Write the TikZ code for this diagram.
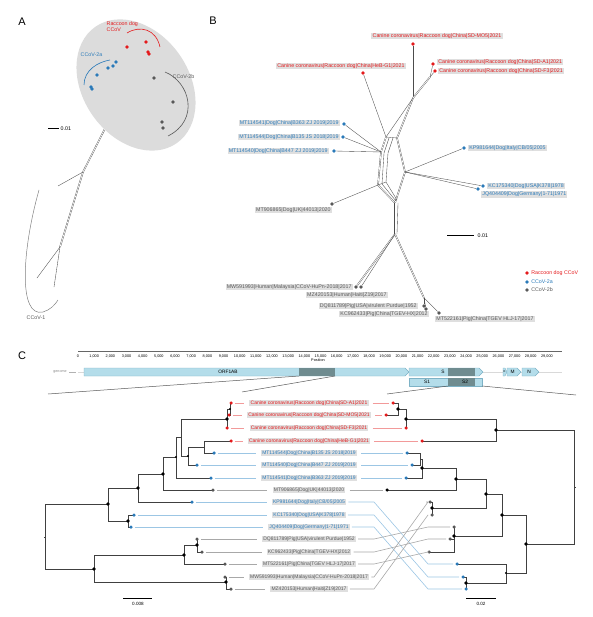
\documentclass[tikz,border=0pt]{standalone}
\usepackage{fontspec}
\setmainfont{Liberation Sans}
\usetikzlibrary{positioning, calc}
\definecolor{cRed}{HTML}{E41A1C}
\definecolor{cBlue}{HTML}{2A7AB9}
\definecolor{cGray}{HTML}{585858}
\definecolor{lnRed}{HTML}{F29A9A}
\definecolor{lnBlue}{HTML}{9CC6E4}
\definecolor{lnGray}{HTML}{A8A8A8}
\definecolor{labFill}{HTML}{DFDFDF}
\definecolor{ellFill}{HTML}{DCDCDC}
\definecolor{gLight}{HTML}{B4DDEA}
\definecolor{gEdge}{HTML}{7DB2C6}
\definecolor{gDark}{HTML}{6F8C90}
\pgfdeclarelayer{bg}
\pgfsetlayers{bg,main}

\begin{document}
\begin{tikzpicture}[x=1pt, y=-1pt, line join=round,
  panel/.style={font=\fontsize{11}{12}\selectfont},
  smtxt/.style={font=\fontsize{5.3}{6.2}\selectfont, inner sep=0.5pt},
  tiplab/.style={fill=labFill, inner xsep=1.2pt, inner ysep=0.9pt, font=\fontsize{5}{6}\selectfont},
  labB/.style={tiplab, font=\fontsize{5.3}{6}\selectfont},
  adot/.style={circle, inner sep=0pt, minimum size=3.8pt},
  leaf/.style={circle, inner sep=0pt, minimum size=3.5pt},
  inbig/.style={circle, fill=black, inner sep=0pt, minimum size=3.9pt},
  insm/.style={circle, fill=black, inner sep=0pt, minimum size=2.4pt},
  netln/.style={draw=black!70, line width=0.35pt},
  netd/.style={netln, double=white, double distance=0.7pt},
  branch/.style={draw=black!75, line width=0.7pt},
  conn/.style={line width=0.6pt, shorten <=2pt, shorten >=2pt},
  gbox/.style={fill=gLight, draw=gEdge, line width=0.4pt},
  gtext/.style={font=\fontsize{4.8}{5}\selectfont, inner sep=0pt},
  ticklbl/.style={font=\fontsize{3.8}{4}\selectfont, inner sep=0pt},
  funnel/.style={draw=black!65, line width=0.5pt},
  clade/.style={line width=0.6pt}]
\useasboundingbox (0,0) rectangle (592,617);

% panel letters
\node[panel] (pA) at (22,22) {A};
\node[panel] (pB) at (213,21) {B};
\node[panel] (pC) at (22,356) {C};

% ---------- A: whole network ----------
\fill[ellFill, rotate around={-55:(136,85)}] (136,85) ellipse [x radius=71, y radius=53];

\node[adot, fill=cRed] (ar1) at (127,47) {};
\node[adot, fill=cRed] (ar2) at (146,42) {};
\node[adot, fill=cRed] (ar3) at (148,52) {};
\node[adot, fill=cRed] (ar4) at (149,54) {};
\node[adot, fill=cBlue] (ab1) at (116,62) {};
\node[adot, fill=cBlue] (ab2) at (113,66) {};
\node[adot, fill=cBlue] (ab3) at (108,68) {};
\node[adot, fill=cBlue] (ab4) at (97,75) {};
\node[adot, fill=cBlue] (ab5) at (91,87) {};
\node[adot, fill=cBlue] (ab6) at (92,89) {};
\node[adot, fill=cGray] (ag1) at (154,78) {};
\node[adot, fill=cGray] (ag2) at (173,102) {};
\node[adot, fill=cGray] (ag3) at (162,122) {};
\node[adot, fill=cGray] (ag4) at (163,128) {};
\coordinate (aj0) at (127,85);
\coordinate (aj1) at (140,66);
\coordinate (aj2) at (140,97);
\coordinate (aj3) at (146,98);
\coordinate (ak1) at (83,172);
\coordinate (ak2) at (60,247);
\coordinate (ae1) at (58,186);
\coordinate (ae2) at (37,278);
\coordinate (ae3) at (54,287);

\begin{pgfonlayer}{bg}
  \draw[netln] (ar1) -- (aj0);
  \foreach \d in {ar2,ar3,ar4} \draw[netln] (\d) -- (aj1);
  \draw[netd] (aj1) -- (aj0);
  \foreach \d in {ab1,ab2,ab3,ab4,ab5,ab6,ag1} \draw[netln] (\d) -- (aj0);
  \draw[netln] (ag2) -- (aj2) -- (aj0);
  \foreach \d in {ag3,ag4} \draw[netln] (\d) -- (aj3);
  \draw[netd] (aj3) -- (aj0);
  \draw[netd] (aj0) -- (ak1);
  \draw[netd] (ak1) -- (ak2);
  \draw[netln] (ak1) -- (ae1);
  \draw[netln] (ak2) -- (ae2);
  \draw[netln] (ak2) -- (ae3);
\end{pgfonlayer}

% clade brackets
\draw[cRed, clade] (127,33) .. controls (140,25) and (156,29) .. (160,47);
\draw[cBlue, clade] (110,60) .. controls (98,62) and (84,70) .. (84,85);
\draw[cGray, clade] (165,72) .. controls (190,82) and (200,120) .. (168,136);
\draw[gray, line width=0.5pt] (39,190) .. controls (22,250) and (18,318) .. (43,312)
  .. controls (50,310) and (55,305) .. (58,300);
\node[smtxt, text=cRed, anchor=west, align=left] (tRD) at (106,27) {Raccoon dog\\CCoV};
\node[smtxt, text=cBlue, anchor=west] (t2a) at (80,55) {CCoV-2a};
\node[smtxt, text=cGray, anchor=west] (t2b) at (172,77) {CCoV-2b};
\node[smtxt, text=cGray] (t1) at (36,318) {CCoV-1};

% scale A
\draw[line width=0.8pt] (48,128) -- (59,128);
\node[smtxt, anchor=west] (sA) at (60,128.5) {0.01};

% ---------- B: CCoV-2 network ----------
\node[adot, fill=cRed] (bMO5) at (413,44) {};
\node[adot, fill=cRed] (bA1) at (433,64) {};
\node[adot, fill=cRed] (bF3) at (435,71) {};
\node[adot, fill=cRed] (bHeB) at (363,73) {};
\node[adot, fill=cBlue] (bB363) at (344,124) {};
\node[adot, fill=cBlue] (bB135) at (343,137) {};
\node[adot, fill=cBlue] (bB447) at (334,151) {};
\node[adot, fill=cBlue] (bKP) at (464,148) {};
\node[adot, fill=cBlue] (bKC17) at (483,186) {};
\node[adot, fill=cBlue] (bJQ) at (478,189) {};
\node[adot, fill=cGray] (bMT906) at (332,204) {};
\node[adot, fill=cGray] (bMW) at (356,287) {};
\node[adot, fill=cGray] (bMZ) at (361,287) {};
\node[adot, fill=cGray] (bDQ) at (424,306) {};
\node[adot, fill=cGray] (bKC96) at (426,309) {};
\node[adot, fill=cGray] (bMT52) at (439,313) {};
\coordinate (bj1) at (430,77);
\coordinate (bj2) at (413,98);
\coordinate (bj3) at (397,138);
\coordinate (bj4) at (386,137);
\coordinate (bj5) at (381,152);
\coordinate (bj6) at (378,185);
\coordinate (bj7) at (405,172);
\coordinate (bj8) at (395,203);
\coordinate (bj9) at (395,234);
\coordinate (bj10) at (424,298);

\begin{pgfonlayer}{bg}
  \draw[netln] (bMO5) -- (bj2);
  \draw[netln] (bA1) -- (bj1);
  \draw[netln] (bF3) -- (bj1);
  \draw[netd] (bj1) -- (bj2) -- (bj3);
  \draw[netln] (bj2) -- (bj4);
  \draw[netln] (bHeB) -- (bj4);
  \draw[netln] (bj4) -- (bj3);
  \draw[netd] (bj4) -- (bj5) -- (bj6) -- (bj8);
  \draw[netd] (bj3) -- (bj7) -- (bj8);
  \draw[netln] (389,138) -- (384,153) -- (382,184) -- (396,201);
  \draw[netln] (393,138) -- (388,153) -- (386,182) -- (397,200);
  \draw[netln] (bj6) -- (386,182);
  \foreach \d in {bB363,bB135,bB447} \draw[netln] (\d) -- (bj5);
  \foreach \d in {bKP,bKC17,bJQ} \draw[netln] (\d) -- (bj7);
  \draw[netln] (bMT906) -- (bj6);
  \draw[netd] (bj8) -- (bj9);
  \draw[netln] (398,203) -- (397,234);
  \draw[netd] (bj9) -- (bMW);
  \draw[netln] (bj9) -- (bMZ);
  \draw[netd] (bj9) -- (bj10);
  \draw[netln] (bj10) -- (bDQ);
  \draw[netln] (bj10) -- (bKC96);
  \draw[netln] (bj10) -- (bMT52);
\end{pgfonlayer}

\node[labB, text=cRed] (lMO5) at (437,36) {Canine coronavirus|Raccoon dog|China|SD-MO5|2021};
\node[labB, text=cRed] (lHeB) at (341,66) {Canine coronavirus|Raccoon dog|China|HeB-G1|2021};
\node[labB, text=cRed, anchor=west] (lA1) at (437,62) {Canine coronavirus|Raccoon dog|China|SD-A1|2021};
\node[labB, text=cRed, anchor=west] (lF3) at (438,71) {Canine coronavirus|Raccoon dog|China|SD-F3|2021};
\node[labB, text=cBlue, anchor=east] (lB363) at (340,123) {MT114541|Dog|China|B363 ZJ 2019|2019};
\node[labB, text=cBlue, anchor=east] (lB135) at (340,137) {MT114544|Dog|China|B135 JS 2018|2019};
\node[labB, text=cBlue, anchor=east] (lB447) at (329,151) {MT114540|Dog|China|B447 ZJ 2019|2019};
\node[labB, text=cBlue, anchor=west] (lKP) at (468,148) {KP981644|Dog|Italy|CB/05|2005};
\node[labB, text=cBlue, anchor=west] (lKC17) at (487,186) {KC175340|Dog|USA|K378|1978};
\node[labB, text=cBlue, anchor=west] (lJQ) at (481,194.5) {JQ404409|Dog|Germany|1-71|1971};
\node[labB, text=cGray, anchor=east] (lMT906) at (332,210) {MT906865|Dog|UK|44013|2020};
\node[labB, text=cGray, anchor=east] (lMW) at (353,287) {MW591993|Human|Malaysia|CCoV-HuPn-2018|2017};
\node[labB, text=cGray, anchor=east] (lMZ) at (388,295) {MZ420153|Human|Haiti|Z19|2017};
\node[labB, text=cGray, anchor=east] (lDQ) at (418,306) {DQ811789|Pig|USA|virulent Purdue|1952};
\node[labB, text=cGray, anchor=east] (lKC96) at (429,314) {KC962433|Pig|China|TGEV-HX|2012};
\node[labB, text=cGray, anchor=west] (lMT52) at (435,319) {MT522161|Pig|China|TGEV HLJ-17|2017};

% scale B
\draw[line width=0.7pt] (447,235) -- (474,235);
\node[smtxt, anchor=west] (sB) at (477,235.5) {0.01};

% legend
\node[adot, fill=cRed] (kR) at (527,273) {};
\node[smtxt, text=cRed, right=1.5pt of kR] (kRt) {Raccoon dog CCoV};
\node[adot, fill=cBlue] (kB) at (527,282) {};
\node[smtxt, text=cBlue, right=1.5pt of kB] (kBt) {CCoV-2a};
\node[adot, fill=cGray] (kG) at (527,290) {};
\node[smtxt, text=cGray, right=1.5pt of kG] (kGt) {CCoV-2b};

% ---------- C: genome map ----------
\draw[black!60, line width=0.4pt] (78,351) -- (562,351);
\foreach \t in {0,...,149} \draw[black!60, line width=0.2pt] ({78+\t*3.234},351) -- ++(0,1.3);
\foreach \k in {0,...,29}
  \node[ticklbl] at ({78+16.17*\k},356) {\ifnum\k=0 0\else\k,000\fi};
\node[ticklbl] (pos) at (318,360.5) {Position};

\draw[black!15, line width=1pt] (78,372) -- (562,372);
\node[gtext, font=\fontsize{3.6}{4}\selectfont, text=gray] (gname) at (60,372) {genome};
\draw[gray!60, line width=0.3pt] (69,372) -- (76,372);

\draw[gbox] (84,368) -- (405,368) -- (409,372) -- (405,376) -- (84,376) -- cycle;
\fill[gDark] (299,368.2) rectangle (335,375.8);
\node[gtext] (gorf) at (228,372) {ORF1AB};
\draw[gbox] (409,368) -- (479,368) -- (483,372) -- (479,376) -- (409,376) -- cycle;
\fill[gDark] (448,368.2) rectangle (475,375.8);
\node[gtext] (gS) at (443,372) {S};
\draw[gbox] (409,378) rectangle (448,386);
\node[gtext] (gS1) at (427,382) {S1};
\draw[gbox] (448,378) rectangle (482,386);
\fill[gDark] (448.2,378.2) rectangle (475,385.8);
\node[gtext] (gS2) at (465,382) {S2};
\draw[gbox] (503,368) -- (505,368) -- (507,372) -- (505,376) -- (503,376) -- cycle;
\node[gtext, font=\fontsize{2.8}{3}\selectfont] (gE) at (504.6,372) {E};
\draw[gbox] (507,368) -- (517,368) -- (521,372) -- (517,376) -- (507,376) -- cycle;
\node[gtext] (gM) at (512.5,372) {M};
\draw[gbox] (522,368) -- (535,368) -- (539,372) -- (535,376) -- (522,376) -- cycle;
\node[gtext] (gN) at (529,372) {N};

\draw[funnel] (299,376) -- (48,394);
\draw[funnel] (335,376) -- (242,392);
\draw[funnel] (448,386) -- (387,394);
\draw[funnel] (482,386) -- (576,395);

% ---------- C: tanglegram ----------
\foreach \n/\x/\y/\c in {1/231/403/cRed,2/229/415/cRed,3/227/428/cRed,4/231/441/cRed,
    5/214/453/cBlue,6/197/465/cBlue,7/211/478/cBlue,8/213/490/cGray,9/192/502/cBlue,
    10/134/515/cBlue,11/131/527/cBlue,12/197/539/cGray,13/202/552/cGray,
    14/225/564/cGray,15/225/577/cGray,16/231/589/cGray}
  \node[leaf, fill=\c] (L\n) at (\x,\y) {};
\foreach \n/\x/\y/\c in {1/393/403/cRed,2/386/415/cRed,3/406/428/cRed,4/422/441/cRed,
    5/407/453/cBlue,6/412/465/cBlue,7/406/478/cBlue,8/387/490/black,9/430/502/cGray,
    10/432/515/cGray,11/454/527/cGray,12/450/539/cGray,13/429/552/cGray,
    14/457/564/cBlue,15/463/577/cBlue,16/466/589/cBlue}
  \node[leaf, fill=\c] (R\n) at (\x,\y) {};

% left tree
\node[insm] (Le1) at (230,409) {};
\node[inbig] (Le2) at (227,419) {};
\coordinate (Lf1) at (204,447);
\node[insm] (Lf2) at (188,456) {};
\coordinate (Lg1) at (181,437);
\node[insm] (Lg2) at (176,457) {};
\node[inbig] (Lg3) at (163,474) {};
\node[inbig] (Lg4) at (138,488) {};
\node[inbig] (Lg5) at (108,504) {};
\node[inbig] (Lh1) at (128,521) {};
\node[inbig] (Lk1a) at (197,545) {};
\node[inbig] (Lk1) at (184,555) {};
\node[inbig] (Lk2) at (226,582) {};
\node[inbig] (Lk) at (94,569) {};
\coordinate (Lroot) at (45,537);

% right tree
\node[inbig] (Ra1) at (398,409) {};
\node[inbig] (Ra2) at (406,419) {};
\node[inbig] (Ra3) at (496,430) {};
\coordinate (Rb1) at (420,459);
\node[inbig] (Rb2) at (422,468) {};
\node[inbig] (Rb3) at (456,479) {};
\node[inbig] (Rc1) at (432,508) {};
\node[inbig] (Rb4) at (486,494) {};
\node[inbig] (Rc3) at (454,536) {};
\node[inbig] (Rb5) at (502,515) {};
\node[inbig] (Rd1) at (466,583) {};
\node[insm] (Rd) at (506,573) {};
\node[inbig] (Rb6) at (526,544) {};
\coordinate (Rroot) at (574,487);

\begin{pgfonlayer}{bg}
  \foreach \p/\c in {Le1/L1,Le1/L2,Le2/Le1,Le2/L3,Lf1/L4,Lf1/L5,Lf2/Lf1,Lf2/L6,
      Lg1/Le2,Lg1/Lf2,Lg2/Lg1,Lg2/L7,Lg3/Lg2,Lg3/L8,Lg4/Lg3,Lg4/L9,Lh1/L10,Lh1/L11,
      Lg5/Lg4,Lg5/Lh1,Lk1a/L12,Lk1a/L13,Lk1/Lk1a,Lk1/L14,Lk2/L15,Lk2/L16,Lk/Lk1,
      Lk/Lk2,Lroot/Lg5,Lroot/Lk,
      Ra1/R1,Ra1/R2,Ra2/Ra1,Ra2/R3,Ra3/Ra2,Ra3/R4,Rb1/R5,Rb1/R6,Rb2/Rb1,Rb2/R7,
      Rb3/Rb2,Rb3/R8,Rc1/R9,Rc1/R10,Rb4/Rb3,Rb4/Rc1,Rc3/R11,Rc3/R12,Rc3/R13,
      Rb5/Rb4,Rb5/Rc3,Rd1/R15,Rd1/R16,Rd/R14,Rd/Rd1,Rb6/Rb5,Rb6/Rd,Rroot/Ra3,Rroot/Rb6}
    \draw[branch] (\p.center) |- (\c.center);
  \draw[branch] (Lroot.center) -- ++(-1.5,0);
  \draw[branch] (Rroot.center) -- ++(1.5,0);
\end{pgfonlayer}

% labels and left connectors
\foreach \n/\y/\tc/\lc/\t in {
    1/403/cRed/lnRed/{Canine coronavirus|Raccoon dog|China|SD-A1|2021},
    2/415/cRed/lnRed/{Canine coronavirus|Raccoon dog|China|SD-MO5|2021},
    3/428/cRed/lnRed/{Canine coronavirus|Raccoon dog|China|SD-F3|2021},
    4/441/cRed/lnRed/{Canine coronavirus|Raccoon dog|China|HeB-G1|2021},
    5/453/cBlue/lnBlue/{MT114544|Dog|China|B135 JS 2018|2019},
    6/465/cBlue/lnBlue/{MT114540|Dog|China|B447 ZJ 2019|2019},
    7/478/cBlue/lnBlue/{MT114541|Dog|China|B363 ZJ 2019|2019},
    8/490/cGray/lnGray/{MT906865|Dog|UK|44013|2020},
    9/502/cBlue/lnBlue/{KP981644|Dog|Italy|CB/05|2005},
    10/515/cBlue/lnBlue/{KC175340|Dog|USA|K378|1978},
    11/527/cBlue/lnBlue/{JQ404409|Dog|Germany|1-71|1971},
    12/539/cGray/lnGray/{DQ811789|Pig|USA|virulent Purdue|1952},
    13/552/cGray/lnGray/{KC962433|Pig|China|TGEV-HX|2012},
    14/564/cGray/lnGray/{MT522161|Pig|China|TGEV HLJ-17|2017},
    15/577/cGray/lnGray/{MW591993|Human|Malaysia|CCoV-HuPn-2018|2017},
    16/589/cGray/lnGray/{MZ420153|Human|Haiti|Z19|2017}} {
  \node[tiplab, text=\tc] (T\n) at (309,\y) {\t};
  \draw[draw=\lc, conn, shorten >=5pt] (L\n) -- (T\n);
}

% right connectors
\coordinate (xa) at (374,0);
\coordinate (xb) at (428,0);
\foreach \n/\lc in {1/lnRed,2/lnRed,3/lnRed,4/lnRed,5/lnBlue,6/lnBlue,7/lnBlue,8/lnGray}
  \draw[draw=\lc, conn, shorten <=4pt] (T\n) -- (R\n);
\foreach \n/\m/\lc in {9/14/lnBlue,10/15/lnBlue,11/16/lnBlue,12/11/lnGray,
    13/12/lnGray,14/13/lnGray,15/9/lnGray,16/10/lnGray}
  \draw[draw=\lc, conn] (T\n.east) -- (T\n.east -| xa) -- (R\m -| xb) -- (R\m);

% scale bars C
\draw[line width=0.6pt] (123,598) -- (152,598);
\node[smtxt, font=\fontsize{4.6}{5}\selectfont] (sC1) at (138,604) {0.008};
\draw[line width=0.6pt] (466,598) -- (496,598);
\node[smtxt, font=\fontsize{4.6}{5}\selectfont] (sC2) at (481,604) {0.02};
\end{tikzpicture}
\end{document}
